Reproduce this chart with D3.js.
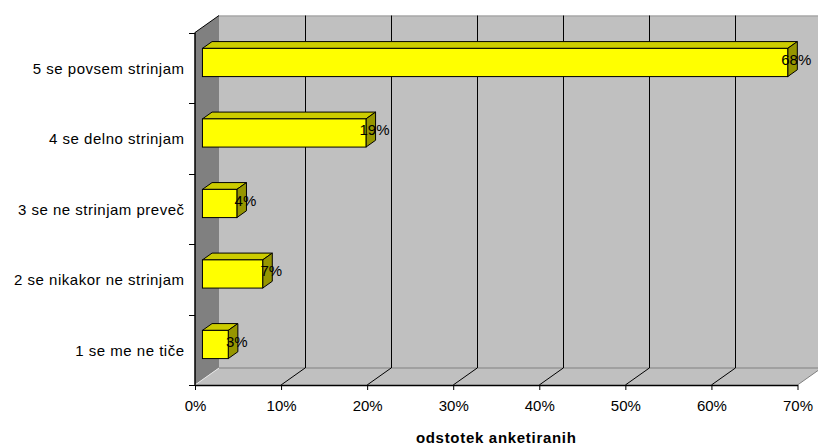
<!DOCTYPE html>
<html>
<head>
<meta charset="utf-8">
<script src="https://cdn.jsdelivr.net/npm/d3@7"></script>
<style>
  html, body { margin: 0; padding: 0; background: #ffffff; }
  svg { display: block; }
  text { font-family: "Liberation Sans", Arial, sans-serif; fill: #000; }
</style>
</head>
<body>
<svg id="chart" width="818" height="446"></svg>
<script>
// Survey answers (top to bottom) and share of respondents in percent
const categories = [
  "5 se povsem strinjam",
  "4 se delno strinjam",
  "3 se ne strinjam preveč",
  "2 se nikakor ne strinjam",
  "1 se me ne tiče"
];
const values = [68, 19, 4, 7, 3];
const tickValues = [0, 10, 20, 30, 40, 50, 60, 70];
const axisTitle = "odstotek anketiranih";

const svg = d3.select("#chart");

// Front plane of the 3D box
const x = d3.scaleLinear().domain([0, 70]).range([195, 797.5]);
const y = d3.scaleBand().domain(categories).range([32.5, 385]).padding(0);

// Depth offset of the back wall relative to the front plane
const DX = 24, DY = 17;
// Bars sit between these depth fractions
const Z0 = 0.31, Z1 = 0.71;
const barFrac = 0.4;

const x0 = x(0), x1 = x(70);
const yTop = y.range()[0], yBot = y.range()[1];

const pts = a => a.map(p => p.join(",")).join(" ");

// Side wall (left)
svg.append("polygon")
  .attr("points", pts([[x0, yTop], [x0 + DX, yTop - DY], [x0 + DX, yBot - DY], [x0, yBot]]))
  .attr("fill", "#808080");

// Back wall
svg.append("rect")
  .attr("x", x0 + DX).attr("y", yTop - DY)
  .attr("width", x1 - x0 + 2).attr("height", yBot - yTop)
  .attr("fill", "#c0c0c0");

// Floor
svg.append("polygon")
  .attr("points", pts([[x0, yBot], [x0 + DX, yBot - DY], [x1 + DX, yBot - DY], [x1, yBot]]))
  .attr("fill", "#c0c0c0");

// Edges of walls and floor
svg.append("line")
  .attr("x1", x0 + DX).attr("y1", yTop - DY + 0.5).attr("x2", 830).attr("y2", yTop - DY + 0.5)
  .attr("stroke", "#9a9a9a").attr("stroke-width", 1);
svg.append("line")
  .attr("x1", x0 + DX).attr("y1", yBot - DY).attr("x2", x1 + DX).attr("y2", yBot - DY)
  .attr("stroke", "#808080").attr("stroke-width", 1);
svg.append("line")
  .attr("x1", x1).attr("y1", yBot).attr("x2", x1 + DX).attr("y2", yBot - DY)
  .attr("stroke", "#808080").attr("stroke-width", 1);
svg.append("line")
  .attr("x1", x0).attr("y1", yBot).attr("x2", x0 + DX).attr("y2", yBot - DY)
  .attr("stroke", "#e6e6e6").attr("stroke-width", 1);
svg.append("line")
  .attr("x1", x0).attr("y1", yTop).attr("x2", x0 + DX).attr("y2", yTop - DY)
  .attr("stroke", "#000").attr("stroke-width", 1);

// Gridlines on back wall and floor
const inner = tickValues.filter(v => v > 0 && v < 70);
svg.append("g").selectAll("line.back").data(inner).join("line")
  .attr("x1", d => Math.round(x(d) + DX) + 0.5).attr("x2", d => Math.round(x(d) + DX) + 0.5)
  .attr("y1", yTop - DY).attr("y2", yBot - DY)
  .attr("stroke", "#000").attr("stroke-width", 1);
svg.append("g").selectAll("line.floor").data(inner).join("line")
  .attr("x1", d => x(d)).attr("y1", yBot)
  .attr("x2", d => x(d) + DX).attr("y2", yBot - DY)
  .attr("stroke", "#000").attr("stroke-width", 1);

// Value axis (bottom)
const xAxis = svg.append("g")
  .attr("transform", `translate(0,${yBot})`)
  .call(d3.axisBottom(x).tickValues(tickValues).tickFormat(d => d + "%").tickSize(5).tickSizeOuter(0));
xAxis.select(".domain").attr("stroke", "#000").attr("stroke-width", 1.5);
xAxis.selectAll(".tick line").attr("stroke", "#000");
xAxis.selectAll(".tick text")
  .attr("font-family", "Liberation Sans, Arial, sans-serif")
  .attr("font-size", 15).attr("fill", "#000")
  .attr("y", 10).attr("dy", "1.05em");

// Category axis (left)
const bounds = categories.map(c => y(c)).concat([yBot]);
svg.append("line")
  .attr("x1", x0).attr("x2", x0).attr("y1", yTop).attr("y2", yBot)
  .attr("stroke", "#000").attr("stroke-width", 1.5);
svg.append("g").selectAll("line").data(bounds).join("line")
  .attr("x1", x0 - 6).attr("x2", x0).attr("y1", d => Math.round(d) + 0.5).attr("y2", d => Math.round(d) + 0.5)
  .attr("stroke", "#000").attr("stroke-width", 1);
svg.append("g").selectAll("text").data(categories).join("text")
  .attr("x", x0 - 10.5)
  .attr("y", d => y(d) + y.bandwidth() / 2 + 0.5)
  .attr("dy", "0.35em")
  .attr("text-anchor", "end")
  .attr("font-size", 15)
  .attr("letter-spacing", 0.5)
  .text(d => d);

// 3D bars
const bdx = DX * (Z1 - Z0), bdy = DY * (Z1 - Z0);
const bars = svg.append("g").selectAll("g").data(categories.map((c, i) => ({ c, v: values[i] }))).join("g");
bars.each(function (d) {
  const g = d3.select(this);
  const h = y.bandwidth() * barFrac;
  const cy = y(d.c) + y.bandwidth() / 2;
  const fx0 = x(0) + DX * Z0, fx1 = x(d.v) + DX * Z0;
  const ft = cy - h / 2 - DY * Z0, fb = cy + h / 2 - DY * Z0;
  g.append("polygon")
    .attr("points", pts([[fx0, ft], [fx1, ft], [fx1 + bdx, ft - bdy], [fx0 + bdx, ft - bdy]]))
    .attr("fill", "#cccc00").attr("stroke", "#000").attr("stroke-width", 1).attr("stroke-linejoin", "round");
  g.append("polygon")
    .attr("points", pts([[fx1, ft], [fx1 + bdx, ft - bdy], [fx1 + bdx, fb - bdy], [fx1, fb]]))
    .attr("fill", "#969600").attr("stroke", "#000").attr("stroke-width", 1).attr("stroke-linejoin", "round");
  g.append("rect")
    .attr("x", fx0).attr("y", ft).attr("width", fx1 - fx0).attr("height", fb - ft)
    .attr("fill", "#ffff00").attr("stroke", "#000").attr("stroke-width", 1);
  g.append("text")
    .attr("x", x(d.v) + 16)
    .attr("y", cy - 8.5)
    .attr("dy", "0.35em")
    .attr("text-anchor", "middle")
    .attr("font-size", 15)
    .text(d.v + "%");
});

// Axis title
svg.append("text")
  .attr("x", (x0 + x1) / 2)
  .attr("y", 443)
  .attr("text-anchor", "middle")
  .attr("font-size", 15)
  .attr("font-weight", "bold")
  .attr("letter-spacing", 0.7)
  .text(axisTitle);
</script>
</body>
</html>
